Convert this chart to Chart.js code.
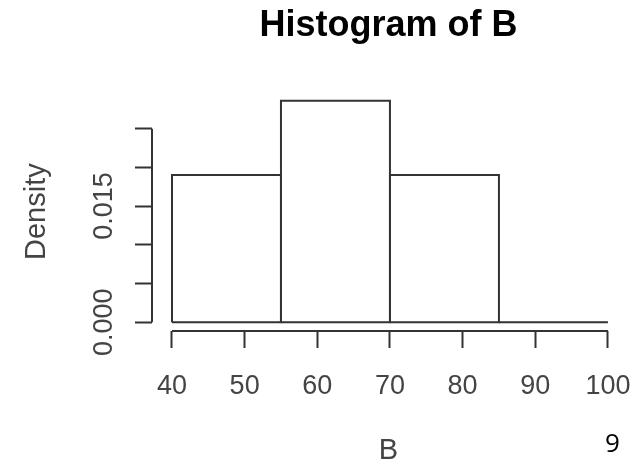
<!DOCTYPE html>
<html>
<head>
<meta charset="utf-8">
<script src="https://cdn.jsdelivr.net/npm/chart.js@4"></script>
<style>
  html, body { margin: 0; padding: 0; background: #fff; }
  #wrap { position: relative; width: 643px; height: 465px; }
  #pageNo { position: absolute; left: 605px; top: 429px; font: 26px "Open Sans", sans-serif; line-height: 26px; color: #000; }
</style>
</head>
<body>
<div id="wrap">
  <canvas id="hist" width="643" height="465"></canvas>
  <div id="pageNo">9</div>
</div>
<script>
// histogram of B: bin edges and densities
const breaks = [40, 55, 70, 85, 100];
const density = [0.019, 0.0286, 0.019, 0];

const xTicks = [40, 50, 60, 70, 80, 90, 100];
const yTicks = [0, 0.005, 0.010, 0.015, 0.020, 0.025];
const yLabelled = [0, 0.015];

const ink = '#333';

// one closed outline per bin
const binSets = density.map((d, i) => ({
  data: [
    { x: breaks[i], y: 0 },
    { x: breaks[i], y: d },
    { x: breaks[i + 1], y: d },
    { x: breaks[i + 1], y: 0 },
    { x: breaks[i], y: 0 }
  ],
  showLine: true,
  borderColor: ink,
  borderWidth: 2,
  pointRadius: 0,
  tension: 0,
  fill: false
}));

// R style axis line: only from first to last tick
const axisLines = {
  id: 'axisLines',
  afterDraw(chart) {
    const { ctx, chartArea, scales } = chart;
    ctx.save();
    ctx.strokeStyle = ink;
    ctx.lineWidth = 2;
    ctx.beginPath();
    ctx.moveTo(scales.x.getPixelForValue(xTicks[0]), chartArea.bottom);
    ctx.lineTo(scales.x.getPixelForValue(xTicks[xTicks.length - 1]), chartArea.bottom);
    ctx.moveTo(chartArea.left, scales.y.getPixelForValue(yTicks[0]));
    ctx.lineTo(chartArea.left, scales.y.getPixelForValue(yTicks[yTicks.length - 1]));
    ctx.stroke();
    ctx.restore();
  }
};

const tickFont = { family: 'Liberation Sans', size: 27 };
const titleFont = { family: 'Liberation Sans', size: 29, lineHeight: 1 };

new Chart(document.getElementById('hist'), {
  type: 'scatter',
  data: { datasets: binSets },
  options: {
    responsive: false,
    animation: false,
    layout: { padding: { left: 0, right: 18, top: 0, bottom: 0 } },
    plugins: {
      legend: { display: false },
      tooltip: { enabled: false },
      title: {
        display: true,
        text: 'Histogram of B',
        fullSize: false,
        color: '#000',
        font: { family: 'Liberation Sans', size: 36, weight: 'bold', lineHeight: 1.2 },
        padding: { top: 4, bottom: 45 }
      }
    },
    scales: {
      x: {
        type: 'linear',
        min: 37.25,
        max: 102.35,
        afterBuildTicks: s => { s.ticks = xTicks.map(v => ({ value: v })); },
        afterFit: s => { s.height = 134; s.paddingLeft = 0; s.paddingRight = 0; },
        border: { display: false },
        grid: { drawOnChartArea: false, drawTicks: true, tickLength: 17, tickWidth: 2, tickColor: ink },
        ticks: { autoSkip: false, maxRotation: 0, padding: 22, color: '#444', font: tickFont },
        title: { display: true, text: 'B', color: '#444', font: titleFont, padding: 0 }
      },
      y: {
        type: 'linear',
        min: -0.00114,
        max: 0.02971,
        afterBuildTicks: s => { s.ticks = yTicks.map(v => ({ value: v })); },
        afterFit: s => { s.width = 152; },
        border: { display: false },
        grid: { drawOnChartArea: false, drawTicks: true, tickLength: 17, tickWidth: 2, tickColor: ink },
        ticks: {
          autoSkip: false,
          minRotation: 90,
          maxRotation: 90,
          crossAlign: 'center',
          padding: -3,
          color: '#444',
          font: tickFont,
          callback: v => yLabelled.some(t => Math.abs(t - v) < 1e-9) ? v.toFixed(3) : ''
        },
        title: { display: true, text: 'Density', color: '#444', font: titleFont, padding: 22 }
      }
    }
  },
  plugins: [axisLines]
});
</script>
</body>
</html>
